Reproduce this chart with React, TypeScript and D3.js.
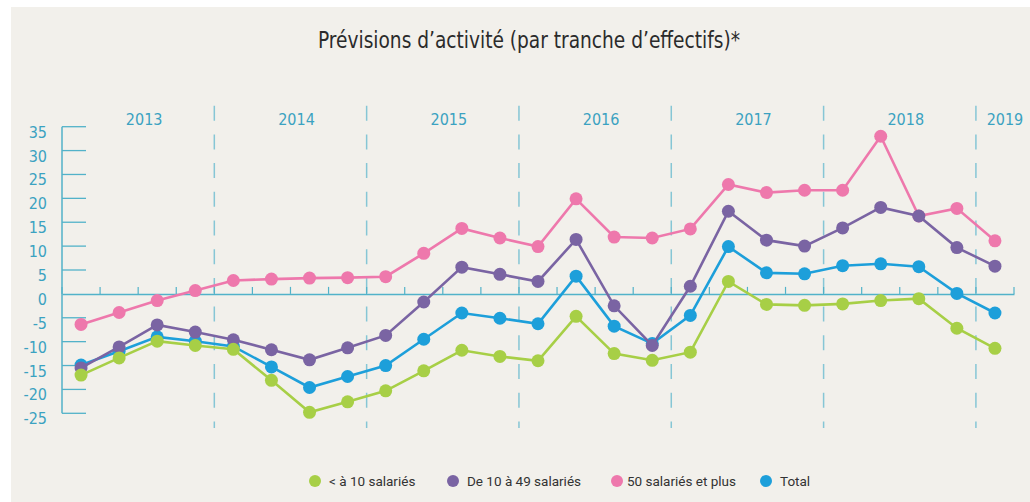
import { useRef, useEffect } from "react";
import * as d3 from "d3";

// quarters per year, 2013 Q1 -> 2019 Q1
const years = ["2013", "2014", "2015", "2016", "2017", "2018", "2019"];
const quartersPerYear = [4, 4, 4, 4, 4, 4, 1];
const yTicks = [35, 30, 25, 20, 15, 10, 5, 0, -5, -10, -15, -20, -25];

const moins10 = [-17.0, -13.4, -9.9, -10.8, -11.6, -18.1, -24.8, -22.6, -20.3, -16.1, -11.8, -13.1, -14.0, -4.7, -12.5, -13.9, -12.2, 2.6, -2.2, -2.4, -2.1, -1.4, -1.0, -7.2, -11.4];
const de10a49 = [-15.5, -11.1, -6.5, -8.0, -9.6, -11.7, -13.8, -11.3, -8.7, -1.7, 5.6, 4.1, 2.6, 11.4, -2.5, -10.8, 1.6, 17.3, 11.25, 10.0, 13.8, 18.1, 16.3, 9.7, 5.8];
const plus50 = [-6.4, -3.9, -1.4, 0.7, 2.8, 3.1, 3.3, 3.4, 3.6, 8.5, 13.7, 11.7, 9.9, 19.9, 11.9, 11.7, 13.6, 22.9, 21.2, 21.7, 21.7, 33.0, 16.3, 17.9, 11.1];
const total = [-14.9, -12.0, -9.0, -9.9, -11.0, -15.3, -19.6, -17.3, -15.0, -9.5, -4.0, -5.1, -6.25, 3.7, -6.75, -10.4, -4.5, 9.9, 4.4, 4.2, 5.9, 6.3, 5.7, 0.1, -4.0];

const seriesNames = ["< à 10 salariés", "De 10 à 49 salariés", "50 salariés et plus", "Total"];
const seriesColors = ["#a7cf46", "#7a64a3", "#ee78ac", "#1d9fda"];

const width = 1030,
  height = 502;
const axisColor = "#52b2c9";
const textColor = "#3ba2c1";
const narrow = "'Liberation Sans Narrow', 'DejaVu Sans Condensed', sans-serif";

export default function App() {
  const xAxisRef = useRef(null);

  const quarters = d3.range(d3.sum(quartersPerYear));
  const xScale = d3.scaleBand().domain(quarters.map(String)).range([62, 1014]).padding(0);
  const bw = xScale.bandwidth();
  const yScale = d3.scaleLinear().domain([-25, 35]).range([413.3, 126.7]);
  const cx = (i) => xScale(String(i)) + bw / 2;

  // start index of each year
  const yearStarts = quartersPerYear.map((_, i) => d3.sum(quartersPerYear.slice(0, i)));

  useEffect(() => {
    const g = d3.select(xAxisRef.current);
    g.selectAll("*").remove();
    g.call(d3.axisTop(xScale).tickValues([]).tickSizeOuter(0));
    g.select(".domain").attr("stroke", axisColor).attr("stroke-width", 1.5);
    // small ticks on band boundaries
    g.selectAll("line.q")
      .data(d3.range(quarters.length + 1))
      .enter()
      .append("line")
      .attr("class", "q")
      .attr("x1", (d) => (d < quarters.length ? xScale(String(d)) : xScale.range()[1]))
      .attr("x2", (d) => (d < quarters.length ? xScale(String(d)) : xScale.range()[1]))
      .attr("y1", 0)
      .attr("y2", -7)
      .attr("stroke", axisColor)
      .attr("stroke-width", 1.2);
  }, []);

  const line = d3
    .line<number>()
    .x((d, i) => cx(i))
    .y((d) => yScale(d));

  const allSeries = [moins10, de10a49, plus50, total];
  const drawOrder = [2, 3, 1, 0];

  const legendX = [315, 453, 617, 766];

  return (
    <svg
      width={width}
      height={height}
      style={{ position: "absolute", left: 0, top: 0 }}
      viewBox={`0 0 ${width} ${height}`}
    >
      <rect x={0} y={0} width={width} height={height} fill="#ffffff" />
      <rect x={11} y={7} width={width - 11} height={height - 7} fill="#f2f0eb" />

      <text
        x={318}
        y={48}
        textLength={422}
        lengthAdjust="spacingAndGlyphs"
        fontFamily={narrow}
        fontSize={23}
        fill="#2b2b2b"
      >
        Prévisions d’activité (par tranche d’effectifs)*
      </text>

      {/* year separators */}
      {yearStarts.slice(1).map((s, i) => (
        <line
          key={"sep" + i}
          x1={xScale(String(s))}
          x2={xScale(String(s))}
          y1={105.7}
          y2={428}
          stroke="#86c6d5"
          strokeWidth={1.5}
          strokeDasharray="15 13.7"
        />
      ))}

      {/* year labels */}
      {years.map((y, i) => {
        const s = yearStarts[i];
        const e = s + quartersPerYear[i] - 1;
        const mx = (cx(s) + cx(e)) / 2;
        return (
          <text
            key={y}
            x={i === years.length - 1 ? mx + 10 : mx + 6}
            y={125}
            textAnchor="middle"
            fontFamily={narrow}
            fontSize={16}
            fill={textColor}
          >
            {y}
          </text>
        );
      })}

      {/* y axis */}
      <line x1={62} x2={62} y1={yScale(35)} y2={yScale(-25)} stroke={axisColor} strokeWidth={1.5} />
      {yTicks.map((t) => (
        <g key={t}>
          {t !== 0 && (
            <line x1={62} x2={86} y1={yScale(t)} y2={yScale(t)} stroke={axisColor} strokeWidth={1.3} />
          )}
          <text
            x={47}
            y={yScale(t) + 11}
            textAnchor="end"
            fontFamily={narrow}
            fontSize={16}
            fill={textColor}
          >
            {t}
          </text>
        </g>
      ))}

      {/* x axis at zero */}
      <g ref={xAxisRef} transform={`translate(0, ${yScale(0)})`} />

      {drawOrder.map((k) => (
        <g key={"s" + k}>
          <path d={line(allSeries[k])} fill="none" stroke={seriesColors[k]} strokeWidth={2.6} />
          {allSeries[k].map((v, i) => (
            <circle key={i} cx={cx(i)} cy={yScale(v)} r={6.5} fill={seriesColors[k]} />
          ))}
        </g>
      ))}

      {/* legend */}
      {seriesNames.map((n, k) => (
        <g key={n}>
          <circle cx={legendX[k]} cy={481} r={6} fill={seriesColors[k]} />
          <text
            x={legendX[k] + (k === 2 ? 10 : 14)}
            y={485.5}
            fontFamily="Roboto, sans-serif"
            fontSize={13.5}
            fill="#333333"
          >
            {n}
          </text>
        </g>
      ))}
    </svg>
  );
}
